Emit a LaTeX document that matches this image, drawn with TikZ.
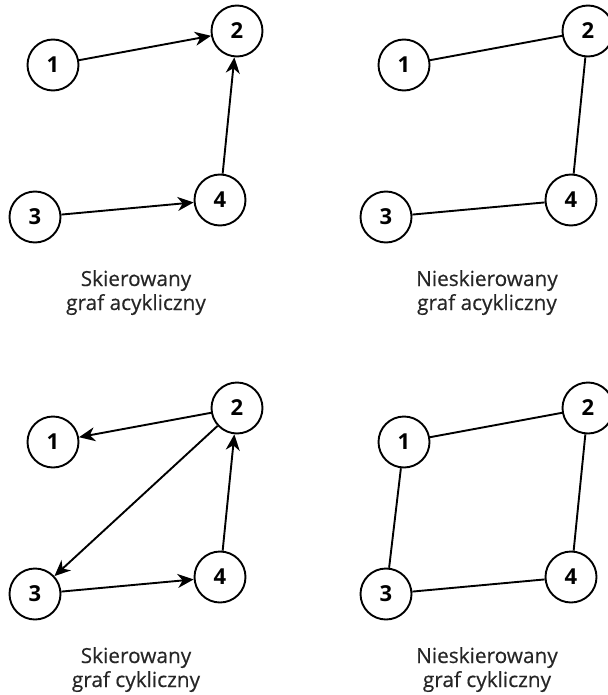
\documentclass[tikz,border=0pt]{standalone}
\usepackage{fontspec}
\setmainfont{Open Sans}
\newfontfamily\captionfont[FakeBold=0.4]{Open Sans}
\usetikzlibrary{arrows.meta}
\begin{document}
\begin{tikzpicture}[x=1pt,y=-1pt,
  vertex/.style={circle,draw,line width=1.9pt,minimum size=51pt,inner sep=0pt,
    font=\fontsize{22}{22}\selectfont\bfseries},
  edge/.style={line width=1.9pt},
  arc/.style={edge,-{Stealth[length=16pt,width=14pt,inset=5pt]}},
  caption/.style={align=center,inner sep=0pt,anchor=base,text=black!85,
    font=\captionfont\fontsize{20.8}{24}\selectfont}]
\useasboundingbox (0,0) rectangle (607,695);

% directed acyclic graph
\begin{scope}
  \node[vertex] (a1) at (53,65)  {1};
  \node[vertex] (a2) at (237,31) {2};
  \node[vertex] (a3) at (35,217) {3};
  \node[vertex] (a4) at (220,200) {4};
  \draw[arc] (a1) -- (a2);
  \draw[arc] (a4) -- (a2);
  \draw[arc] (a3) -- (a4);
  \node[caption] (la) at (136,310) {Skierowany\\graf acykliczny};
\end{scope}

% undirected acyclic graph
\begin{scope}[shift={(351,0)}]
  \node[vertex] (b1) at (53,65)  {1};
  \node[vertex] (b2) at (237,31) {2};
  \node[vertex] (b3) at (35,217) {3};
  \node[vertex] (b4) at (220,200) {4};
  \draw[edge] (b1) -- (b2);
  \draw[edge] (b2) -- (b4);
  \draw[edge] (b3) -- (b4);
  \node[caption] (lb) at (136,310) {Nieskierowany\\graf acykliczny};
\end{scope}

% directed cyclic graph
\begin{scope}[shift={(0,377)}]
  \node[vertex] (c1) at (53,65)  {1};
  \node[vertex] (c2) at (237,31) {2};
  \node[vertex] (c3) at (35,217) {3};
  \node[vertex] (c4) at (220,200) {4};
  \draw[arc] (c2) -- (c1);
  \draw[arc] (c2) -- (c3);
  \draw[arc] (c4) -- (c2);
  \draw[arc] (c3) -- (c4);
  \node[caption] (lc) at (136,310) {Skierowany\\graf cykliczny};
\end{scope}

% undirected cyclic graph
\begin{scope}[shift={(351,377)}]
  \node[vertex] (d1) at (53,65)  {1};
  \node[vertex] (d2) at (237,31) {2};
  \node[vertex] (d3) at (35,217) {3};
  \node[vertex] (d4) at (220,200) {4};
  \draw[edge] (d1) -- (d2);
  \draw[edge] (d2) -- (d4);
  \draw[edge] (d3) -- (d4);
  \draw[edge] (d1) -- (d3);
  \node[caption] (ld) at (136,310) {Nieskierowany\\graf cykliczny};
\end{scope}
\end{tikzpicture}
\end{document}
